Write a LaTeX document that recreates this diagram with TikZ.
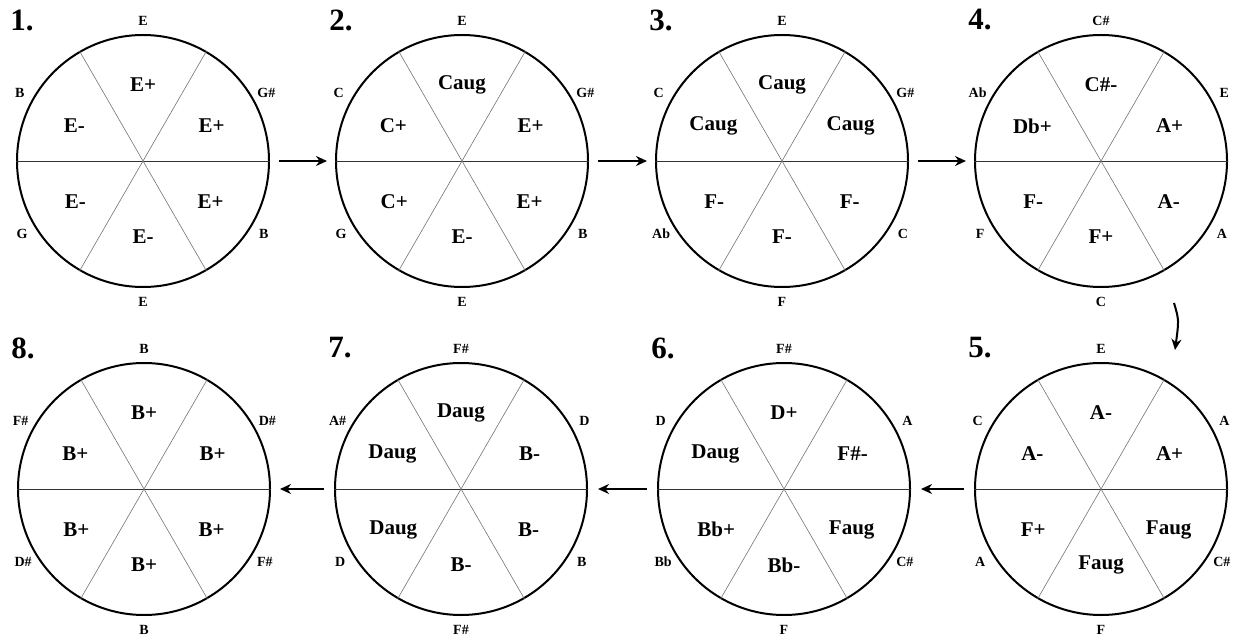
\documentclass[tikz,border=0pt]{standalone}
\usepackage{fontspec}
\setmainfont{Liberation Serif}
\usetikzlibrary{arrows.meta}

\begin{document}
\begin{tikzpicture}[x=1pt, y=1pt,
  wheel/.style={draw, circle, line width=2pt, minimum size=252pt, inner sep=0pt},
  spoke/.style={draw=black!55, line width=0.6pt},
  axis/.style={draw=black!80, line width=0.7pt},
  note/.style={font=\fontsize{14}{15}\selectfont\bfseries, inner sep=0pt},
  chord/.style={font=\fontsize{21}{23}\selectfont\bfseries, inner sep=0pt},
  stage/.style={font=\fontsize{31}{32}\selectfont\bfseries, inner sep=0pt},
  flow/.style={-{Stealth[length=11pt, width=10pt]}, line width=2pt}]
\useasboundingbox (0,0) rectangle (1241,638);

% eight wheels: number / centre / notes at 90,30,330,270,210,150 / chords at the same angles
\foreach \i/\x/\y/\na/\nb/\nc/\nd/\ne/\nf/\ca/\cb/\cc/\cd/\ce/\cf in {
  1/143/477/E/G\#/B/E/G/B/E+/E+/E+/E-/E-/E-,
  2/462/477/E/G\#/B/E/G/C/Caug/E+/E+/E-/C+/C+,
  3/782/477/E/G\#/C/F/Ab/C/Caug/Caug/F-/F-/F-/Caug,
  4/1101/477/C\#/E/A/C/F/Ab/C\#-/A+/A-/F+/F-/Db+,
  5/1101/149/E/A/C\#/F/A/C/A-/A+/Faug/Faug/F+/A-,
  6/784/149/F\#/A/C\#/F/Bb/D/D+/F\#-/Faug/Bb-/Bb+/Daug,
  7/461/149/F\#/D/B/F\#/D/A\#/Daug/B-/B-/B-/Daug/Daug,
  8/144/149/B/D\#/F\#/B/D\#/F\#/B+/B+/B+/B+/B+/B+}{
  \node (w\i) [wheel] at (\x,\y) {};
  \draw[axis] (w\i.180) -- (w\i.0);
  \draw[spoke] (w\i.60) -- (w\i.240);
  \draw[spoke] (w\i.120) -- (w\i.300);
  \begin{scope}[shift={(\x,\y)}]
    \node (s\i) [stage] at (-121,141) {\i.};
    \node (w\i-n1) [note] at (90:140) {\na};
    \node (w\i-n2) [note] at (29:141) {\nb};
    \node (w\i-n3) [note] at (-31:141) {\nc};
    \node (w\i-n4) [note] at (270:141) {\nd};
    \node (w\i-n5) [note] at (211:141) {\ne};
    \node (w\i-n6) [note] at (151:141) {\nf};
    \node (w\i-c1) [chord] at (90:76) {\ca};
    \node (w\i-c2) [chord] at (27:77) {\cb};
    \node (w\i-c3) [chord] at (-31:79) {\cc};
    \node (w\i-c4) [chord] at (270:76) {\cd};
    \node (w\i-c5) [chord] at (211:79) {\ce};
    \node (w\i-c6) [chord] at (153:77) {\cf};
  \end{scope}
}

% arrows between wheels
\draw[flow, shorten <=9pt, shorten >=8pt] (w1) -- (w2);
\draw[flow, shorten <=9pt, shorten >=8pt] (w2) -- (w3);
\draw[flow, shorten <=9pt, shorten >=8pt] (w3) -- (w4);
\draw[flow, shorten <=10pt, shorten >=10pt] (w5) -- (w6);
\draw[flow, shorten <=10pt, shorten >=10pt] (w6) -- (w7);
\draw[flow, shorten <=10pt, shorten >=9pt] (w7) -- (w8);
\coordinate (down4) at (1174,335);
\coordinate (down5) at (1175,288);
\draw[flow] (down4) .. controls (1179,318) .. (down5);
\end{tikzpicture}
\end{document}
